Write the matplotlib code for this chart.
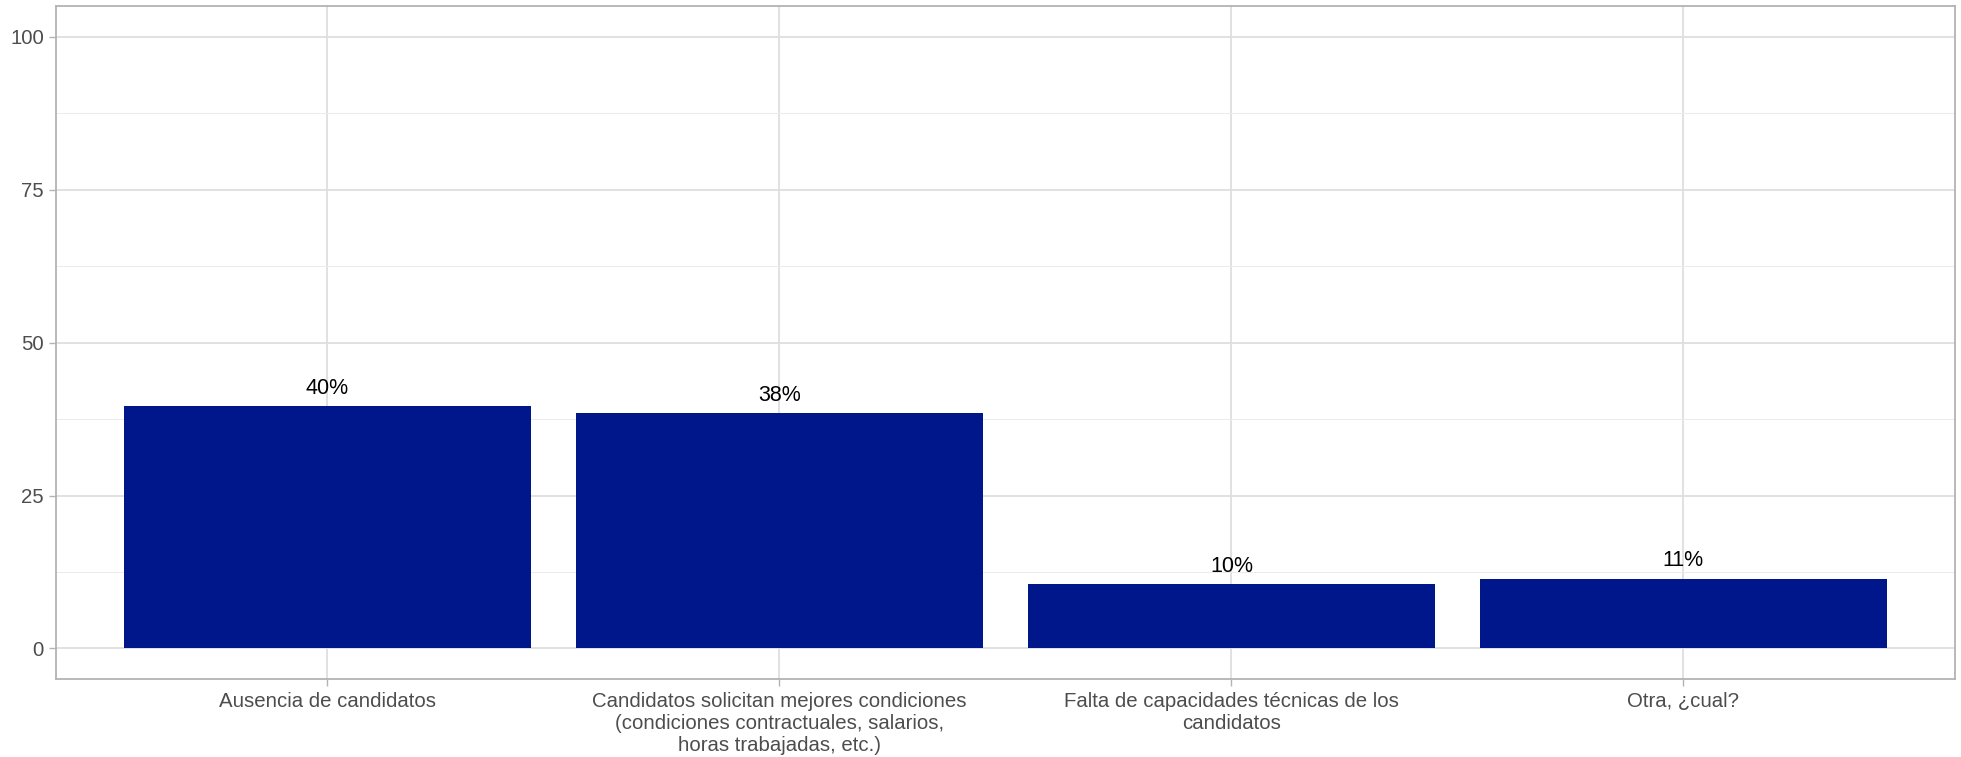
import matplotlib
matplotlib.use("Agg")
import matplotlib.pyplot as plt
import numpy as np

categories = [
    "Ausencia de candidatos",
    "Candidatos solicitan mejores condiciones\n(condiciones contractuales, salarios,\nhoras trabajadas, etc.)",
    "Falta de capacidades técnicas de los\ncandidatos",
    "Otra, ¿cual?",
]
values = [39.6, 38.5, 10.5, 11.4]
value_labels = ["40%", "38%", "10%", "11%"]
yticks = [0, 25, 50, 75, 100]

plt.rcParams['font.family'] = ['Liberation Sans', 'DejaVu Sans']

fig = plt.figure(figsize=(19.61, 7.57), dpi=100)
ax = fig.add_axes([0.0287, 0.103, 0.968, 0.8887])

x = np.arange(1, len(categories) + 1)
ax.bar(x, values, width=0.9, color="#00168B", zorder=3)
for xi, v, lab in zip(x, values, value_labels):
    ax.text(xi, v + 1.2, lab, ha="center", va="bottom", fontsize=15.5,
            color="black", zorder=4)

ax.set_xlim(0.4, 4.6)
ax.set_ylim(-5, 105)
ax.set_xticks(x)
ax.set_xticklabels(categories, fontsize=14.7, color="#4D4D4D", linespacing=1.2)
ax.set_yticks(yticks)
ax.set_yticklabels([str(t) for t in yticks], fontsize=14.7, color="#4D4D4D")
ax.set_yticks([12.5, 37.5, 62.5, 87.5], minor=True)
ax.tick_params(axis="both", which="major", length=5, width=1.0, color="#B3B3B3", pad=4)
ax.tick_params(axis="y", which="minor", length=0)

ax.grid(True, which="major", axis="both", color="#DEDEDE", linewidth=1.3, zorder=0)
ax.grid(True, which="minor", axis="y", color="#EBEBEB", linewidth=0.7, zorder=0)
ax.set_axisbelow(True)
for s in ax.spines.values():
    s.set_color("#B3B3B3")
    s.set_linewidth(1.3)

fig.savefig("out.png", dpi=100)
